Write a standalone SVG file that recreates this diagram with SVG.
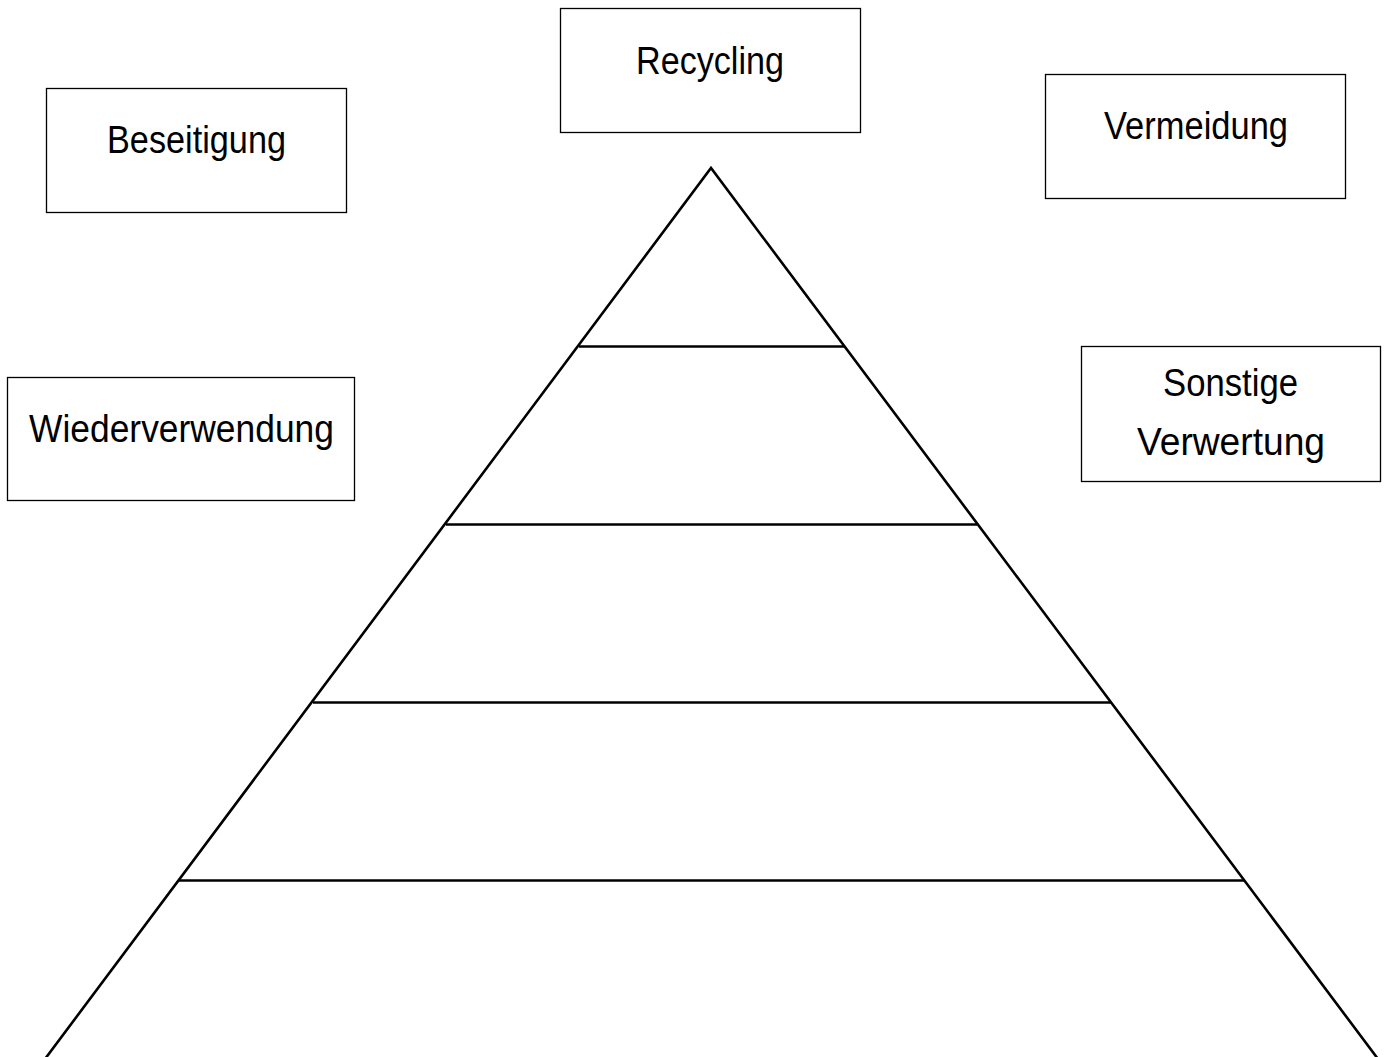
<svg xmlns="http://www.w3.org/2000/svg" width="1386" height="1057" viewBox="0 0 1386 1057">
<style>
.box{fill:#fff;stroke:#000;stroke-width:1.3}
.lbl{font-family:"Liberation Sans",Arial,sans-serif;font-size:39px;fill:#000;text-anchor:middle}
.pyr{fill:none;stroke:#000;stroke-width:2.6;stroke-linecap:butt}
</style>
<rect width="1386" height="1057" fill="#fff"/>
<g id="pyramid" class="pyr">
<path d="M45,1059 L711,168 L1378,1059"/>
<line x1="579" y1="346.5" x2="844" y2="346.5"/>
<line x1="446" y1="524.5" x2="977" y2="524.5"/>
<line x1="313" y1="702.5" x2="1111" y2="702.5"/>
<line x1="179" y1="880.5" x2="1244" y2="880.5"/>
</g>
<g id="recycling">
<rect class="box" x="560.5" y="8.5" width="300" height="124"/>
<text class="lbl" x="710" y="74" textLength="148" lengthAdjust="spacingAndGlyphs">Recycling</text>
</g>
<g id="beseitigung">
<rect class="box" x="46.5" y="88.5" width="300" height="124"/>
<text class="lbl" x="196.5" y="153" textLength="179" lengthAdjust="spacingAndGlyphs">Beseitigung</text>
</g>
<g id="vermeidung">
<rect class="box" x="1045.5" y="74.5" width="300" height="124"/>
<text class="lbl" x="1196" y="139" textLength="184" lengthAdjust="spacingAndGlyphs">Vermeidung</text>
</g>
<g id="wiederverwendung">
<rect class="box" x="7.5" y="377.5" width="347" height="123"/>
<text class="lbl" x="181.5" y="442" textLength="305" lengthAdjust="spacingAndGlyphs">Wiederverwendung</text>
</g>
<g id="sonstige-verwertung">
<rect class="box" x="1081.5" y="346.5" width="299" height="135"/>
<text class="lbl" x="1230.5" y="396" textLength="135" lengthAdjust="spacingAndGlyphs">Sonstige</text>
<text class="lbl" x="1231" y="455" textLength="188" lengthAdjust="spacingAndGlyphs">Verwertung</text>
</g>
<g id="connectors"></g>
</svg>
